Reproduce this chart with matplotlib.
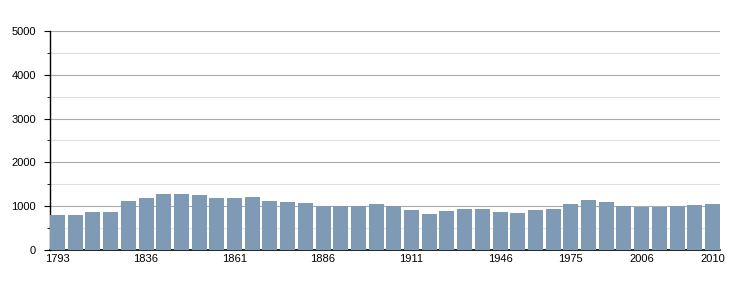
import numpy as np
import matplotlib.pyplot as plt
from matplotlib.ticker import MultipleLocator

plt.rcParams["font.family"] = ["Liberation Sans", "DejaVu Sans"]

# =========================================================
# DATA
# =========================================================

years = [
    1793, 1800, 1806, 1821, 1831, 1836, 1841, 1846, 1851, 1856,
    1861, 1866, 1872, 1876, 1881, 1886, 1891, 1896, 1901, 1906,
    1911, 1921, 1926, 1931, 1936, 1946, 1954, 1962, 1968, 1975,
    1982, 1990, 1999, 2006, 2007, 2008, 2009, 2010
]

population = [
    802, 802, 870, 870, 1122, 1191, 1282, 1282, 1260, 1191,
    1191, 1214, 1122, 1099, 1076, 1008, 1008, 1008, 1053, 1008,
    916, 824, 893, 939, 939, 870, 847, 916, 939, 1053,
    1145, 1099, 1008, 992, 992, 1008, 1031, 1053
]

labelled_years = [1793, 1836, 1861, 1886, 1911, 1946, 1975, 2006, 2010]

# =========================================================
# PLOT
# =========================================================

fig = plt.figure(figsize=(7.5, 3), dpi=100)
ax = fig.add_axes([0.0667, 0.1667, 0.8933, 0.73])

x = np.arange(len(years))

ax.bar(x, population, width=0.85, color="#7f9ab4", zorder=3)

for v in range(500, 5001, 500):
    ax.axhline(
        v,
        color="#aaaaaa" if v % 1000 == 0 else "#e0e0e0",
        linewidth=0.8,
        zorder=1
    )

ax.set_ylim(0, 5000)
ax.set_xlim(-0.425, len(years) - 0.575)

ax.yaxis.set_major_locator(MultipleLocator(1000))
ax.yaxis.set_minor_locator(MultipleLocator(500))
ax.tick_params(axis="y", which="major", length=4, labelsize=8, pad=6)
ax.tick_params(axis="y", which="minor", length=2)

tick_pos = [years.index(y) for y in labelled_years]
ax.set_xticks(tick_pos)
ax.set_xticklabels([str(y) for y in labelled_years])
ax.tick_params(axis="x", length=0, labelsize=8, pad=3)

for side in ["top", "right"]:
    ax.spines[side].set_visible(False)

ax.spines["left"].set_linewidth(1)
ax.spines["bottom"].set_linewidth(1.2)

plt.savefig("out.png", dpi=100)
